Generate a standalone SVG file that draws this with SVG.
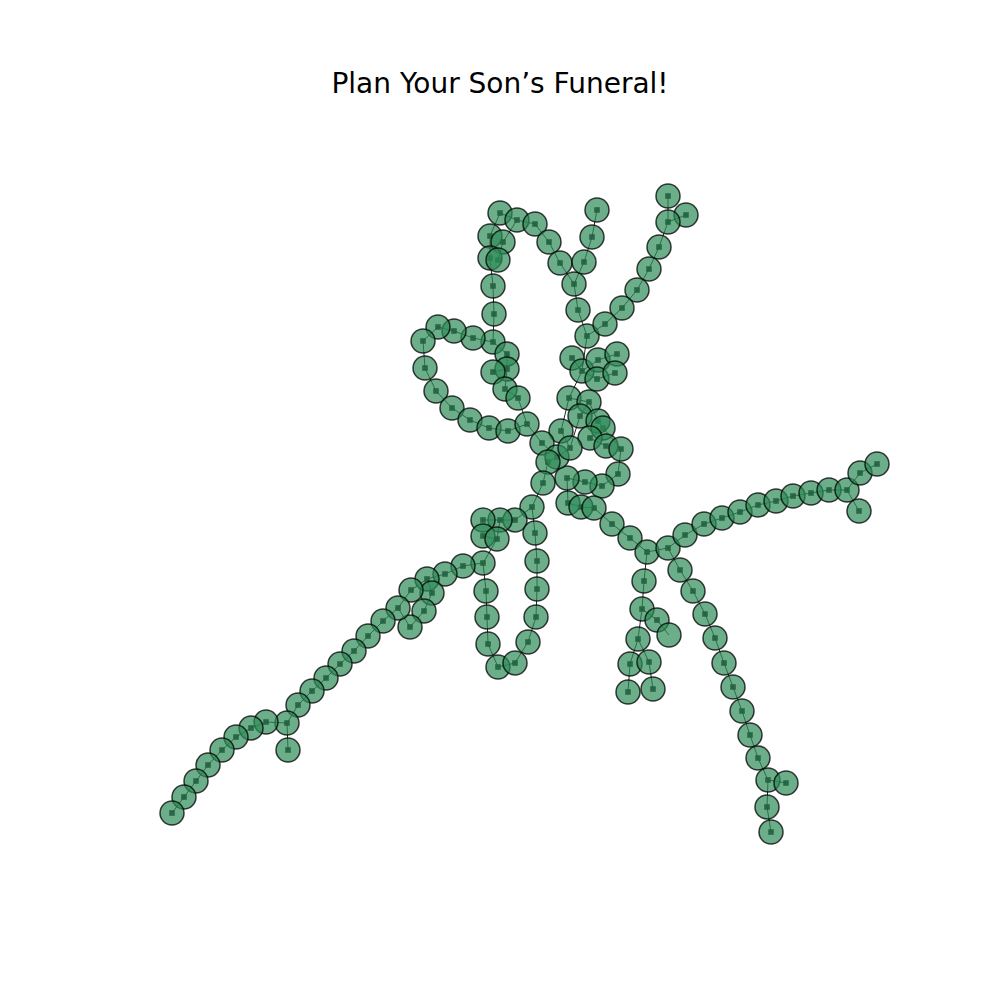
<svg xmlns="http://www.w3.org/2000/svg" xmlns:xlink="http://www.w3.org/1999/xlink" width="1000" height="1000" viewBox="0 0 1000 1000">
<style>
.e{stroke:#000;stroke-width:1;stroke-opacity:0.85;fill:none}
.h{fill:#000;fill-opacity:0.9}
.n{fill:#2e8b57;fill-opacity:0.7;stroke:#000;stroke-opacity:0.75;stroke-width:1.5}
.t{font-family:"DejaVu Sans",sans-serif;font-size:28px;fill:#000}
</style>
<defs>
<rect id="sq" x="-2.8" y="-2.8" width="5.6" height="5.6"/>
<circle id="nd" r="12"/>
</defs>
<rect width="1000" height="1000" fill="#fff"/>
<text class="t" x="500" y="93" text-anchor="middle">Plan Your Son’s Funeral!</text>
<g id="connectors">
<path class="e" d="M500,213L517,220L535,224L549,242L560,263L574,284L578,310L587,336 M597,210L592,237L584,262L574,284 M500,213L490,236L490,258L493,286L494,314L493,342L473,338L454,331L438,327L423,341L425,368L436,391L452,408L470,420L489,428L508,431L527,424 M517,220L503,242L498,260 M493,342L507,354L507,369L505,389L518,398L527,424 M507,369L493,372 M668,196L668,222L659,247L649,269L637,290L622,308L605,324L587,336 M686,215L668,222 M587,336L582,371 M572,358L582,371 M582,371L598,360L617,354 M582,371L597,379L615,373 M582,371L569,398L561,431L570,448 M569,398L589,402L580,416L570,448 M589,402L598,421L603,428L590,438L606,446 M603,428L621,449L618,474L602,486L585,482L567,478L568,503L581,507L594,508L612,524L630,538L647,552 M527,424L542,443L557,457L548,462L543,483L532,507 M557,457L570,448 M647,552L668,548L685,535L704,524L722,518L740,512L758,505L776,501L793,496L811,493L829,490L847,490L860,473L877,464 M847,490L859,511 M668,548L680,570L693,591L705,614L715,638L724,663L733,687L742,711L750,735L758,758L768,780L786,783 M768,780L767,807L771,832 M647,552L644,581L642,609L657,620L669,635 M642,609L638,639L630,664L628,692 M638,639L649,662L653,689 M532,507L515,520L500,520L483,520 M500,520L497,539L483,536 M497,539L483,563L486,591L487,617L488,644L498,667L515,663L528,642L536,617L537,589L537,561L535,533L532,507 M483,563L463,566L445,574L427,579L411,590L398,608 M427,579L432,593L424,611L410,627L398,608 M398,608L383,621L368,636L354,651L340,664L326,678L312,691L298,705L287,723L288,750 M287,723L266,722L251,728L236,737L222,750L208,765L196,781L184,797L172,813"/>
<g class="h">
<use xlink:href="#sq" x="500" y="213"/><use xlink:href="#sq" x="517" y="220"/><use xlink:href="#sq" x="535" y="224"/><use xlink:href="#sq" x="549" y="242"/><use xlink:href="#sq" x="560" y="263"/><use xlink:href="#sq" x="574" y="284"/><use xlink:href="#sq" x="578" y="310"/><use xlink:href="#sq" x="587" y="336"/><use xlink:href="#sq" x="597" y="210"/><use xlink:href="#sq" x="592" y="237"/><use xlink:href="#sq" x="584" y="262"/><use xlink:href="#sq" x="490" y="236"/><use xlink:href="#sq" x="503" y="242"/><use xlink:href="#sq" x="490" y="258"/><use xlink:href="#sq" x="498" y="260"/><use xlink:href="#sq" x="493" y="286"/><use xlink:href="#sq" x="494" y="314"/><use xlink:href="#sq" x="493" y="342"/><use xlink:href="#sq" x="473" y="338"/><use xlink:href="#sq" x="454" y="331"/><use xlink:href="#sq" x="438" y="327"/><use xlink:href="#sq" x="423" y="341"/><use xlink:href="#sq" x="425" y="368"/><use xlink:href="#sq" x="436" y="391"/><use xlink:href="#sq" x="452" y="408"/><use xlink:href="#sq" x="470" y="420"/><use xlink:href="#sq" x="489" y="428"/><use xlink:href="#sq" x="508" y="431"/><use xlink:href="#sq" x="527" y="424"/><use xlink:href="#sq" x="507" y="354"/><use xlink:href="#sq" x="507" y="369"/><use xlink:href="#sq" x="493" y="372"/><use xlink:href="#sq" x="505" y="389"/><use xlink:href="#sq" x="518" y="398"/>
<use xlink:href="#sq" x="668" y="196"/><use xlink:href="#sq" x="686" y="215"/><use xlink:href="#sq" x="668" y="222"/><use xlink:href="#sq" x="659" y="247"/><use xlink:href="#sq" x="649" y="269"/><use xlink:href="#sq" x="637" y="290"/><use xlink:href="#sq" x="622" y="308"/><use xlink:href="#sq" x="605" y="324"/>
<use xlink:href="#sq" x="572" y="358"/><use xlink:href="#sq" x="582" y="371"/><use xlink:href="#sq" x="598" y="360"/><use xlink:href="#sq" x="617" y="354"/><use xlink:href="#sq" x="597" y="379"/><use xlink:href="#sq" x="615" y="373"/><use xlink:href="#sq" x="569" y="398"/><use xlink:href="#sq" x="589" y="402"/><use xlink:href="#sq" x="580" y="416"/><use xlink:href="#sq" x="598" y="421"/><use xlink:href="#sq" x="603" y="428"/><use xlink:href="#sq" x="561" y="431"/><use xlink:href="#sq" x="590" y="438"/><use xlink:href="#sq" x="606" y="446"/><use xlink:href="#sq" x="621" y="449"/><use xlink:href="#sq" x="618" y="474"/><use xlink:href="#sq" x="602" y="486"/><use xlink:href="#sq" x="585" y="482"/><use xlink:href="#sq" x="567" y="478"/><use xlink:href="#sq" x="542" y="443"/><use xlink:href="#sq" x="557" y="457"/><use xlink:href="#sq" x="548" y="462"/><use xlink:href="#sq" x="570" y="448"/><use xlink:href="#sq" x="543" y="483"/><use xlink:href="#sq" x="532" y="507"/><use xlink:href="#sq" x="568" y="503"/><use xlink:href="#sq" x="581" y="507"/><use xlink:href="#sq" x="594" y="508"/><use xlink:href="#sq" x="612" y="524"/><use xlink:href="#sq" x="630" y="538"/><use xlink:href="#sq" x="647" y="552"/>
<use xlink:href="#sq" x="668" y="548"/><use xlink:href="#sq" x="685" y="535"/><use xlink:href="#sq" x="704" y="524"/><use xlink:href="#sq" x="722" y="518"/><use xlink:href="#sq" x="740" y="512"/><use xlink:href="#sq" x="758" y="505"/><use xlink:href="#sq" x="776" y="501"/><use xlink:href="#sq" x="793" y="496"/><use xlink:href="#sq" x="811" y="493"/><use xlink:href="#sq" x="829" y="490"/><use xlink:href="#sq" x="847" y="490"/><use xlink:href="#sq" x="860" y="473"/><use xlink:href="#sq" x="877" y="464"/><use xlink:href="#sq" x="859" y="511"/>
<use xlink:href="#sq" x="680" y="570"/><use xlink:href="#sq" x="693" y="591"/><use xlink:href="#sq" x="705" y="614"/><use xlink:href="#sq" x="715" y="638"/><use xlink:href="#sq" x="724" y="663"/><use xlink:href="#sq" x="733" y="687"/><use xlink:href="#sq" x="742" y="711"/><use xlink:href="#sq" x="750" y="735"/><use xlink:href="#sq" x="758" y="758"/><use xlink:href="#sq" x="768" y="780"/><use xlink:href="#sq" x="786" y="783"/><use xlink:href="#sq" x="767" y="807"/><use xlink:href="#sq" x="771" y="832"/>
<use xlink:href="#sq" x="644" y="581"/><use xlink:href="#sq" x="642" y="609"/><use xlink:href="#sq" x="657" y="620"/><use xlink:href="#sq" x="638" y="639"/><use xlink:href="#sq" x="630" y="664"/><use xlink:href="#sq" x="628" y="692"/><use xlink:href="#sq" x="649" y="662"/><use xlink:href="#sq" x="653" y="689"/>
<use xlink:href="#sq" x="515" y="520"/><use xlink:href="#sq" x="500" y="520"/><use xlink:href="#sq" x="483" y="520"/><use xlink:href="#sq" x="483" y="536"/><use xlink:href="#sq" x="497" y="539"/><use xlink:href="#sq" x="483" y="563"/><use xlink:href="#sq" x="486" y="591"/><use xlink:href="#sq" x="487" y="617"/><use xlink:href="#sq" x="488" y="644"/><use xlink:href="#sq" x="498" y="667"/><use xlink:href="#sq" x="515" y="663"/><use xlink:href="#sq" x="528" y="642"/><use xlink:href="#sq" x="536" y="617"/><use xlink:href="#sq" x="537" y="589"/><use xlink:href="#sq" x="537" y="561"/><use xlink:href="#sq" x="535" y="533"/>
<use xlink:href="#sq" x="463" y="566"/><use xlink:href="#sq" x="445" y="574"/><use xlink:href="#sq" x="427" y="579"/><use xlink:href="#sq" x="432" y="593"/><use xlink:href="#sq" x="411" y="590"/><use xlink:href="#sq" x="424" y="611"/><use xlink:href="#sq" x="410" y="627"/><use xlink:href="#sq" x="398" y="608"/><use xlink:href="#sq" x="383" y="621"/><use xlink:href="#sq" x="368" y="636"/><use xlink:href="#sq" x="354" y="651"/><use xlink:href="#sq" x="340" y="664"/><use xlink:href="#sq" x="326" y="678"/><use xlink:href="#sq" x="312" y="691"/><use xlink:href="#sq" x="298" y="705"/><use xlink:href="#sq" x="287" y="723"/><use xlink:href="#sq" x="288" y="750"/><use xlink:href="#sq" x="266" y="722"/><use xlink:href="#sq" x="251" y="728"/><use xlink:href="#sq" x="236" y="737"/><use xlink:href="#sq" x="222" y="750"/><use xlink:href="#sq" x="208" y="765"/><use xlink:href="#sq" x="196" y="781"/><use xlink:href="#sq" x="184" y="797"/><use xlink:href="#sq" x="172" y="813"/>
</g>
</g>
<g class="n">
<g id="n1"><use xlink:href="#nd" x="500" y="213"/></g><g id="n2"><use xlink:href="#nd" x="517" y="220"/></g><g id="n3"><use xlink:href="#nd" x="535" y="224"/></g><g id="n4"><use xlink:href="#nd" x="549" y="242"/></g><g id="n5"><use xlink:href="#nd" x="560" y="263"/></g><g id="n6"><use xlink:href="#nd" x="574" y="284"/></g><g id="n7"><use xlink:href="#nd" x="578" y="310"/></g><g id="n8"><use xlink:href="#nd" x="587" y="336"/></g><g id="n9"><use xlink:href="#nd" x="597" y="210"/></g><g id="n10"><use xlink:href="#nd" x="592" y="237"/></g><g id="n11"><use xlink:href="#nd" x="584" y="262"/></g><g id="n12"><use xlink:href="#nd" x="490" y="236"/></g><g id="n13"><use xlink:href="#nd" x="503" y="242"/></g><g id="n14"><use xlink:href="#nd" x="490" y="258"/></g><g id="n15"><use xlink:href="#nd" x="498" y="260"/></g><g id="n16"><use xlink:href="#nd" x="493" y="286"/></g><g id="n17"><use xlink:href="#nd" x="494" y="314"/></g><g id="n18"><use xlink:href="#nd" x="493" y="342"/></g><g id="n19"><use xlink:href="#nd" x="473" y="338"/></g><g id="n20"><use xlink:href="#nd" x="454" y="331"/></g><g id="n21"><use xlink:href="#nd" x="438" y="327"/></g><g id="n22"><use xlink:href="#nd" x="423" y="341"/></g><g id="n23"><use xlink:href="#nd" x="425" y="368"/></g><g id="n24"><use xlink:href="#nd" x="436" y="391"/></g><g id="n25"><use xlink:href="#nd" x="452" y="408"/></g><g id="n26"><use xlink:href="#nd" x="470" y="420"/></g><g id="n27"><use xlink:href="#nd" x="489" y="428"/></g><g id="n28"><use xlink:href="#nd" x="508" y="431"/></g><g id="n29"><use xlink:href="#nd" x="527" y="424"/></g><g id="n30"><use xlink:href="#nd" x="507" y="354"/></g><g id="n31"><use xlink:href="#nd" x="507" y="369"/></g><g id="n32"><use xlink:href="#nd" x="493" y="372"/></g><g id="n33"><use xlink:href="#nd" x="505" y="389"/></g><g id="n34"><use xlink:href="#nd" x="518" y="398"/></g>
<g id="n35"><use xlink:href="#nd" x="668" y="196"/></g><g id="n36"><use xlink:href="#nd" x="686" y="215"/></g><g id="n37"><use xlink:href="#nd" x="668" y="222"/></g><g id="n38"><use xlink:href="#nd" x="659" y="247"/></g><g id="n39"><use xlink:href="#nd" x="649" y="269"/></g><g id="n40"><use xlink:href="#nd" x="637" y="290"/></g><g id="n41"><use xlink:href="#nd" x="622" y="308"/></g><g id="n42"><use xlink:href="#nd" x="605" y="324"/></g>
<g id="n43"><use xlink:href="#nd" x="572" y="358"/></g><g id="n44"><use xlink:href="#nd" x="582" y="371"/></g><g id="n45"><use xlink:href="#nd" x="598" y="360"/></g><g id="n46"><use xlink:href="#nd" x="617" y="354"/></g><g id="n47"><use xlink:href="#nd" x="597" y="379"/></g><g id="n48"><use xlink:href="#nd" x="615" y="373"/></g><g id="n49"><use xlink:href="#nd" x="569" y="398"/></g><g id="n50"><use xlink:href="#nd" x="589" y="402"/></g><g id="n51"><use xlink:href="#nd" x="580" y="416"/></g><g id="n52"><use xlink:href="#nd" x="598" y="421"/></g><g id="n53"><use xlink:href="#nd" x="603" y="428"/></g><g id="n54"><use xlink:href="#nd" x="561" y="431"/></g><g id="n55"><use xlink:href="#nd" x="590" y="438"/></g><g id="n56"><use xlink:href="#nd" x="606" y="446"/></g><g id="n57"><use xlink:href="#nd" x="621" y="449"/></g><g id="n58"><use xlink:href="#nd" x="618" y="474"/></g><g id="n59"><use xlink:href="#nd" x="602" y="486"/></g><g id="n60"><use xlink:href="#nd" x="585" y="482"/></g><g id="n61"><use xlink:href="#nd" x="567" y="478"/></g><g id="n62"><use xlink:href="#nd" x="542" y="443"/></g><g id="n63"><use xlink:href="#nd" x="557" y="457"/></g><g id="n64"><use xlink:href="#nd" x="548" y="462"/></g><g id="n65"><use xlink:href="#nd" x="570" y="448"/></g><g id="n66"><use xlink:href="#nd" x="543" y="483"/></g><g id="n67"><use xlink:href="#nd" x="532" y="507"/></g><g id="n68"><use xlink:href="#nd" x="568" y="503"/></g><g id="n69"><use xlink:href="#nd" x="581" y="507"/></g><g id="n70"><use xlink:href="#nd" x="594" y="508"/></g><g id="n71"><use xlink:href="#nd" x="612" y="524"/></g><g id="n72"><use xlink:href="#nd" x="630" y="538"/></g><g id="n73"><use xlink:href="#nd" x="647" y="552"/></g>
<g id="n74"><use xlink:href="#nd" x="668" y="548"/></g><g id="n75"><use xlink:href="#nd" x="685" y="535"/></g><g id="n76"><use xlink:href="#nd" x="704" y="524"/></g><g id="n77"><use xlink:href="#nd" x="722" y="518"/></g><g id="n78"><use xlink:href="#nd" x="740" y="512"/></g><g id="n79"><use xlink:href="#nd" x="758" y="505"/></g><g id="n80"><use xlink:href="#nd" x="776" y="501"/></g><g id="n81"><use xlink:href="#nd" x="793" y="496"/></g><g id="n82"><use xlink:href="#nd" x="811" y="493"/></g><g id="n83"><use xlink:href="#nd" x="829" y="490"/></g><g id="n84"><use xlink:href="#nd" x="847" y="490"/></g><g id="n85"><use xlink:href="#nd" x="860" y="473"/></g><g id="n86"><use xlink:href="#nd" x="877" y="464"/></g><g id="n87"><use xlink:href="#nd" x="859" y="511"/></g>
<g id="n88"><use xlink:href="#nd" x="680" y="570"/></g><g id="n89"><use xlink:href="#nd" x="693" y="591"/></g><g id="n90"><use xlink:href="#nd" x="705" y="614"/></g><g id="n91"><use xlink:href="#nd" x="715" y="638"/></g><g id="n92"><use xlink:href="#nd" x="724" y="663"/></g><g id="n93"><use xlink:href="#nd" x="733" y="687"/></g><g id="n94"><use xlink:href="#nd" x="742" y="711"/></g><g id="n95"><use xlink:href="#nd" x="750" y="735"/></g><g id="n96"><use xlink:href="#nd" x="758" y="758"/></g><g id="n97"><use xlink:href="#nd" x="768" y="780"/></g><g id="n98"><use xlink:href="#nd" x="786" y="783"/></g><g id="n99"><use xlink:href="#nd" x="767" y="807"/></g><g id="n100"><use xlink:href="#nd" x="771" y="832"/></g>
<g id="n101"><use xlink:href="#nd" x="644" y="581"/></g><g id="n102"><use xlink:href="#nd" x="642" y="609"/></g><g id="n103"><use xlink:href="#nd" x="657" y="620"/></g><g id="n104"><use xlink:href="#nd" x="669" y="635"/></g><g id="n105"><use xlink:href="#nd" x="638" y="639"/></g><g id="n106"><use xlink:href="#nd" x="630" y="664"/></g><g id="n107"><use xlink:href="#nd" x="628" y="692"/></g><g id="n108"><use xlink:href="#nd" x="649" y="662"/></g><g id="n109"><use xlink:href="#nd" x="653" y="689"/></g>
<g id="n110"><use xlink:href="#nd" x="515" y="520"/></g><g id="n111"><use xlink:href="#nd" x="500" y="520"/></g><g id="n112"><use xlink:href="#nd" x="483" y="520"/></g><g id="n113"><use xlink:href="#nd" x="483" y="536"/></g><g id="n114"><use xlink:href="#nd" x="497" y="539"/></g><g id="n115"><use xlink:href="#nd" x="483" y="563"/></g><g id="n116"><use xlink:href="#nd" x="486" y="591"/></g><g id="n117"><use xlink:href="#nd" x="487" y="617"/></g><g id="n118"><use xlink:href="#nd" x="488" y="644"/></g><g id="n119"><use xlink:href="#nd" x="498" y="667"/></g><g id="n120"><use xlink:href="#nd" x="515" y="663"/></g><g id="n121"><use xlink:href="#nd" x="528" y="642"/></g><g id="n122"><use xlink:href="#nd" x="536" y="617"/></g><g id="n123"><use xlink:href="#nd" x="537" y="589"/></g><g id="n124"><use xlink:href="#nd" x="537" y="561"/></g><g id="n125"><use xlink:href="#nd" x="535" y="533"/></g>
<g id="n126"><use xlink:href="#nd" x="463" y="566"/></g><g id="n127"><use xlink:href="#nd" x="445" y="574"/></g><g id="n128"><use xlink:href="#nd" x="427" y="579"/></g><g id="n129"><use xlink:href="#nd" x="432" y="593"/></g><g id="n130"><use xlink:href="#nd" x="411" y="590"/></g><g id="n131"><use xlink:href="#nd" x="424" y="611"/></g><g id="n132"><use xlink:href="#nd" x="410" y="627"/></g><g id="n133"><use xlink:href="#nd" x="398" y="608"/></g><g id="n134"><use xlink:href="#nd" x="383" y="621"/></g><g id="n135"><use xlink:href="#nd" x="368" y="636"/></g><g id="n136"><use xlink:href="#nd" x="354" y="651"/></g><g id="n137"><use xlink:href="#nd" x="340" y="664"/></g><g id="n138"><use xlink:href="#nd" x="326" y="678"/></g><g id="n139"><use xlink:href="#nd" x="312" y="691"/></g><g id="n140"><use xlink:href="#nd" x="298" y="705"/></g><g id="n141"><use xlink:href="#nd" x="287" y="723"/></g><g id="n142"><use xlink:href="#nd" x="288" y="750"/></g><g id="n143"><use xlink:href="#nd" x="266" y="722"/></g><g id="n144"><use xlink:href="#nd" x="251" y="728"/></g><g id="n145"><use xlink:href="#nd" x="236" y="737"/></g><g id="n146"><use xlink:href="#nd" x="222" y="750"/></g><g id="n147"><use xlink:href="#nd" x="208" y="765"/></g><g id="n148"><use xlink:href="#nd" x="196" y="781"/></g><g id="n149"><use xlink:href="#nd" x="184" y="797"/></g><g id="n150"><use xlink:href="#nd" x="172" y="813"/></g>
</g>
</svg>
